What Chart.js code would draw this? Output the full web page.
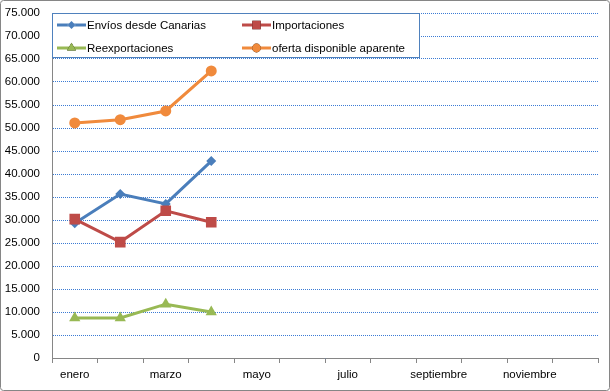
<!DOCTYPE html>
<html>
<head>
<meta charset="utf-8">
<script src="https://cdn.jsdelivr.net/npm/chart.js@4"></script>
<style>
  html, body { margin: 0; padding: 0; background: #fff; }
  #wrap { width: 610px; height: 391px; }
</style>
</head>
<body>
<div id="wrap"><canvas id="canariasChart" width="610" height="391"></canvas></div>
<script>
const meses = ["enero", "febrero", "marzo", "abril", "mayo", "junio", "julio", "agosto", "septiembre", "octubre", "noviembre", "diciembre"];
const envios = [29300, 35650, 33500, 42800, null, null, null, null, null, null, null, null];
const importaciones = [30200, 25200, 32000, 29500, null, null, null, null, null, null, null, null];
const reexportaciones = [8700, 8700, 11700, 10000, null, null, null, null, null, null, null, null];
const oferta = [51100, 51800, 53700, 62400, null, null, null, null, null, null, null, null];

const font = { family: "'Liberation Sans', Arial, sans-serif", size: 11.5 };

// leyenda dentro del area de trazado, como en Excel
const boxLegend = {
    id: 'boxLegend',
    afterDatasetsDraw(chart) {
        const ctx = chart.ctx;
        const a = chart.chartArea;
        const x0 = a.left, y0 = a.top, w = 368, h = 45;
        ctx.save();
        ctx.fillStyle = '#fff';
        ctx.fillRect(x0, y0, w, h);
        ctx.strokeStyle = '#4f81bd';
        ctx.lineWidth = 1;
        ctx.strokeRect(x0 + 0.5, y0 + 0.5, w - 1, h - 1);
        ctx.font = font.size + 'px ' + font.family;
        ctx.textBaseline = 'middle';
        const cols = [x0 + 5, x0 + 190];
        const rows = [y0 + 12, y0 + 35];
        chart.data.datasets.forEach((ds, i) => {
            const lx = cols[i % 2], ly = rows[Math.floor(i / 2)];
            ctx.strokeStyle = ds.borderColor;
            ctx.lineWidth = 3;
            ctx.beginPath();
            ctx.moveTo(lx, ly);
            ctx.lineTo(lx + 29, ly);
            ctx.stroke();
            Chart.helpers.drawPoint(ctx, {
                pointStyle: ds.pointStyle,
                radius: ds.pointRadius * 0.8,
                rotation: 0
            }, lx + 14.5, ly);
            ctx.fillStyle = ds.pointBackgroundColor;
            ctx.fill();
            ctx.fillStyle = '#000';
            ctx.fillText(ds.label, lx + 30, ly + 1);
        });
        ctx.restore();
    }
};

const marco = {
    id: 'marco',
    afterDraw(chart) {
        const ctx = chart.ctx;
        ctx.save();
        ctx.strokeStyle = '#868686';
        ctx.lineWidth = 1;
        ctx.beginPath();
        ctx.roundRect(0.5, 0.5, chart.width - 1, chart.height - 1, 3);
        ctx.stroke();
        ctx.restore();
    }
};

function serie(label, data, color, style, radius, order) {
    return {
        label: label,
        data: data,
        borderColor: color,
        backgroundColor: color,
        pointBackgroundColor: color,
        pointBorderColor: color,
        pointStyle: style,
        pointRadius: radius,
        pointBorderWidth: 0,
        borderWidth: 3,
        tension: 0,
        spanGaps: false,
        order: order
    };
}

const cvs = document.getElementById('canariasChart');

let grafico = new Chart(cvs, {
    type: 'line',
    data: {
        labels: meses,
        datasets: [
            serie('Envíos desde Canarias', envios, '#4a7ebb', 'rectRot', 5, 4),
            serie('Importaciones', importaciones, '#be4b48', 'rect', 7.5, 3),
            serie('Reexportaciones', reexportaciones, '#98b954', 'triangle', 6.5, 2),
            serie('oferta disponible aparente', oferta, '#f08a3c', 'circle', 5.5, 1)
        ]
    },
    options: {
        responsive: false,
        animation: false,
        layout: { padding: { top: 13, right: 12, left: 0, bottom: 0 } },
        plugins: {
            legend: { display: false },
            tooltip: { enabled: false }
        },
        scales: {
            x: {
                offset: true,
                border: { color: '#868686', width: 1 },
                grid: {
                    offset: true,
                    drawOnChartArea: false,
                    drawTicks: true,
                    tickLength: 5,
                    color: '#868686'
                },
                ticks: {
                    autoSkip: false,
                    maxRotation: 0,
                    padding: 5,
                    color: '#000',
                    font: font,
                    callback: function (v, i) { return i % 2 === 0 ? meses[i] : ''; }
                },
                afterFit: function (s) { s.height = 33; s.paddingLeft = 0; s.paddingRight = 0; }
            },
            y: {
                min: 0,
                max: 75000,
                border: { color: '#868686', width: 1, dash: [1, 1] },
                grid: {
                    color: '#3b7bd4',
                    drawTicks: false,
                    lineWidth: 1
                },
                ticks: {
                    stepSize: 5000,
                    padding: 12,
                    color: '#000',
                    font: font,
                    callback: function (v) { return v.toLocaleString('de-DE'); }
                },
                afterFit: function (s) { s.width = 52; s.paddingTop = 0; s.paddingBottom = 0; }
            }
        }
    },
    plugins: [boxLegend, marco]
});
</script>
</body>
</html>
